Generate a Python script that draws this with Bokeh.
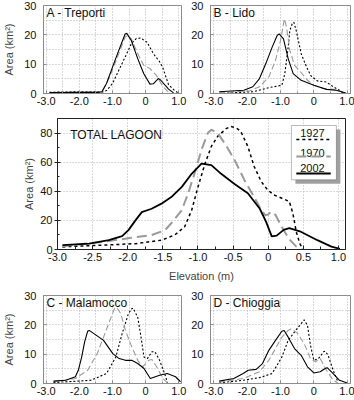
from bokeh.plotting import figure
from bokeh.layouts import column, row
from bokeh.models import Range1d, FixedTicker, SingleIntervalTicker, Label, BoxAnnotation, Arrow
from bokeh.embed import file_html
from bokeh.resources import INLINE

# ---------------- data ----------------
# Panel A - Treporti
a_x_2002 = [-2.9, -2.0, -1.4, -1.32, -1.18, -1.0, -0.81, -0.62, -0.57, -0.43, -0.24, -0.06, 0.13, 0.23, 0.38, 0.45, 0.69, 0.84]
a_y_2002 = [0.3, 0.4, 0.4, 0.6, 3.4, 9.0, 14.7, 20.3, 20.5, 18.0, 11.9, 6.8, 3.2, 3.3, 5.1, 4.6, 1.5, 0.2]
a_x_1970 = [-2.9, -2.0, -1.4, -1.3, -1.09, -0.81, -0.62, -0.55, -0.43, -0.24, -0.06, 0.13, 0.32, 0.51, 0.69]
a_y_1970 = [0.3, 0.4, 0.5, 0.8, 5.6, 13.6, 19.2, 19.8, 18.6, 13.6, 9.6, 8.5, 6.2, 2.5, 0.4]
a_x_1927 = [-2.9, -2.0, -1.5, -1.3, -1.18, -1.0, -0.81, -0.62, -0.43, -0.28, -0.15, 0.04, 0.23, 0.41, 0.51, 0.69, 0.88, 0.98]
a_y_1927 = [0.4, 0.6, 0.6, 0.5, 1.0, 3.4, 7.9, 12.4, 17.0, 18.8, 18.9, 17.5, 13.6, 11.0, 9.0, 3.0, 0.9, 0.2]

# Panel B - Lido
b_x_2002 = [-2.84, -2.1, -1.83, -1.63, -1.44, -1.25, -1.1, -1.04, -0.91, -0.77, -0.62, -0.38, 0.0, 0.38, 0.67, 0.96]
b_y_2002 = [0.6, 1.1, 2.3, 5.1, 10.2, 15.8, 19.8, 20.3, 18.6, 11.9, 6.8, 4.5, 2.8, 1.4, 1.1, 0.2]
b_x_1970 = [-2.84, -1.92, -1.63, -1.35, -1.15, -1.0, -0.91, -0.88, -0.82, -0.72, -0.58, -0.43, -0.19, 0.0, 0.29, 0.58, 0.87]
b_y_1970 = [0.2, 0.9, 2.3, 5.6, 11.3, 18.0, 23.7, 25.4, 22.6, 14.7, 9.6, 7.8, 4.5, 2.8, 1.7, 1.4, 0.6]
b_x_1927 = [-2.84, -1.83, -1.35, -0.96, -0.87, -0.77, -0.72, -0.65, -0.6, -0.53, -0.38, -0.24, -0.1, 0.1, 0.38, 0.58, 0.77, 0.87]
b_y_1927 = [0.0, 0.6, 2.0, 2.8, 6.8, 15.8, 21.5, 23.7, 24.3, 21.5, 13.6, 9.6, 6.2, 4.3, 3.9, 2.3, 1.1, 0.2]

# Panel C - Malamocco
c_x_2002 = [-2.78, -2.41, -2.12, -2.03, -1.93, -1.84, -1.75, -1.7, -1.56, -1.27, -0.99, -0.8, -0.61, -0.42, -0.24, -0.05, 0.14, 0.42, 0.65, 0.9, 1.05]
c_y_2002 = [0.8, 1.1, 2.3, 4.5, 9.0, 14.2, 17.8, 18.1, 17.0, 14.7, 10.2, 8.5, 7.9, 7.9, 6.8, 5.1, 1.7, 2.8, 3.4, 2.3, 0.6]
c_x_1970 = [-2.78, -2.12, -1.75, -1.46, -1.27, -1.08, -0.94, -0.88, -0.75, -0.61, -0.42, -0.24, -0.09, 0.09, 0.19, 0.33, 0.52, 0.66]
c_y_1970 = [0.6, 1.7, 4.5, 10.2, 15.8, 21.5, 25.5, 26.0, 23.8, 18.1, 12.5, 7.9, 5.7, 7.9, 8.2, 5.7, 1.7, 0.2]
c_x_1927 = [-2.78, -1.65, -1.18, -0.9, -0.71, -0.52, -0.42, -0.38, -0.24, -0.14, -0.05, 0.05, 0.19, 0.28, 0.42, 0.57, 0.66]
c_y_1927 = [0.3, 1.1, 3.4, 9.0, 17.0, 23.8, 25.5, 25.7, 22.6, 15.8, 9.0, 8.5, 10.8, 10.8, 7.9, 3.4, 0.2]

# Panel D - Chioggia
d_x_2002 = [-2.84, -2.4, -2.12, -1.97, -1.73, -1.54, -1.35, -1.15, -0.96, -0.89, -0.77, -0.58, -0.38, -0.19, 0.0, 0.19, 0.34, 0.4, 0.58, 0.77, 1.0]
d_y_2002 = [0.8, 1.7, 3.4, 4.5, 4.8, 6.8, 11.3, 14.7, 17.8, 18.1, 15.8, 11.9, 9.6, 5.7, 3.6, 4.0, 5.1, 5.4, 3.4, 1.1, 0.2]
d_x_1970 = [-2.84, -2.12, -1.63, -1.35, -1.15, -0.96, -0.77, -0.67, -0.48, -0.29, -0.1, 0.05, 0.19, 0.38, 0.58, 0.72]
d_y_1970 = [0.45, 1.7, 4.0, 7.9, 11.9, 15.8, 18.1, 18.7, 17.0, 13.6, 8.5, 7.4, 8.5, 4.5, 1.1, 0.2]
d_x_1927 = [-2.84, -2.12, -1.63, -1.25, -0.96, -0.77, -0.58, -0.38, -0.29, -0.19, -0.1, 0.0, 0.14, 0.29, 0.34, 0.43, 0.58, 0.72]
d_y_1927 = [0.2, 1.1, 2.0, 3.4, 9.0, 14.7, 17.6, 20.4, 21.7, 19.8, 13.0, 7.9, 8.5, 10.8, 11.0, 9.6, 4.5, 0.6]

# Total lagoon
t_x_2002 = [-2.93, -2.55, -2.27, -2.08, -1.99, -1.89, -1.8, -1.66, -1.52, -1.38, -1.23, -1.09, -0.95, -0.81, -0.67, -0.48, -0.29, -0.12, -0.03, 0.05, 0.12, 0.22, 0.3, 0.45, 0.7, 0.9, 1.02]
t_y_2002 = [3.0, 4.1, 6.4, 9.2, 13.3, 20.0, 25.7, 28.0, 31.5, 36.0, 43.0, 52.0, 59.0, 58.0, 52.0, 45.0, 38.6, 28.0, 19.0, 9.0, 9.5, 13.5, 14.7, 12.5, 6.4, 2.0, 0.5]
t_x_1970 = [-2.93, -2.4, -1.95, -1.66, -1.47, -1.38, -1.23, -1.14, -1.05, -0.95, -0.86, -0.81, -0.72, -0.62, -0.48, -0.34, -0.2, -0.1, -0.04, 0.0, 0.04, 0.1, 0.2, 0.3, 0.4, 0.48]
t_y_1970 = [2.3, 5.0, 8.0, 9.9, 13.3, 18.0, 27.0, 38.6, 52.0, 68.5, 80.0, 82.3, 80.0, 73.0, 61.6, 47.8, 36.0, 27.0, 23.5, 24.0, 26.0, 24.0, 15.0, 7.0, 2.0, 0.0]
t_x_1927 = [-2.93, -2.36, -1.89, -1.52, -1.33, -1.19, -1.09, -1.0, -0.9, -0.81, -0.72, -0.6, -0.53, -0.45, -0.39, -0.29, -0.2, -0.1, -0.01, 0.08, 0.23, 0.3, 0.35, 0.4, 0.45, 0.5]
t_y_1927 = [1.8, 3.0, 4.0, 6.4, 10.0, 15.6, 27.0, 43.0, 59.0, 70.8, 77.7, 83.0, 84.5, 83.4, 81.0, 70.8, 57.0, 46.7, 41.0, 37.5, 34.5, 33.0, 25.0, 12.0, 4.0, 0.0]

years = ["1927", "1970", "2002"]
small_x_ticks = [-3.0, -2.0, -1.0, 0.0, 1.0]
small_x_labels = ["-3.0", "-2.0", "-1.0", "0", "1.0"]
small_y_ticks = [0, 10, 20, 30]
main_x_ticks = [-3.0, -2.5, -2.0, -1.5, -1.0, -0.5, 0.0, 0.5, 1.0]
main_x_labels = ["-3.0", "-2.5", "-2.0", "-1.5", "-1.0", "-0.5", "0", "0.5", "1.0"]
main_y_ticks = [0, 20, 40, 60, 80]

FONT = "Liberation Sans"
GREY = "#9a9a9a"
STYLE = {
    "2002": dict(line_color="black", line_dash="solid"),
    "1970": dict(line_color=GREY, line_dash="6 3"),
    "1927": dict(line_color="black", line_dash="2 2"),
}


def style_axes(p, frame_color, tick_in):
    for ax in (p.xaxis[0], p.yaxis[0]):
        ax.major_label_text_font = FONT
        ax.major_label_text_font_size = "11px"
        ax.major_label_text_color = "#111111"
        ax.axis_label_text_font = FONT
        ax.axis_label_text_font_size = "11px"
        ax.axis_label_text_font_style = "normal"
        ax.axis_line_color = frame_color
        ax.major_tick_line_color = frame_color
        ax.minor_tick_line_color = frame_color
    p.outline_line_color = frame_color
    p.outline_line_alpha = 1.0
    for g in (p.xgrid[0], p.ygrid[0]):
        g.grid_line_color = "#b4b4b4"
        g.grid_line_dash = "1 2"
        g.grid_line_width = 1


def small_panel(title, xs, ys, width, height, left, right, top, bottom, xr, ylabel):
    p = figure(width=width, height=height, x_range=Range1d(*xr), y_range=Range1d(0, 30),
               output_backend="svg", toolbar_location=None,
               min_border_left=left, min_border_right=right,
               min_border_top=top, min_border_bottom=bottom)
    style_axes(p, "#8c8c8c", 3)
    p.xaxis.ticker = FixedTicker(ticks=small_x_ticks, minor_ticks=[-2.5, -1.5, -0.5, 0.5])
    p.xaxis.major_label_overrides = {t: l for t, l in zip(small_x_ticks, small_x_labels)}
    p.yaxis.ticker = FixedTicker(ticks=small_y_ticks)
    p.xaxis.major_tick_in = 3
    p.xaxis.major_tick_out = 0
    p.xaxis.minor_tick_in = 2
    p.xaxis.minor_tick_out = 0
    p.yaxis.major_tick_in = 3
    p.yaxis.major_tick_out = 0
    p.yaxis.minor_tick_in = 0
    p.yaxis.minor_tick_out = 0
    p.xaxis.major_label_standoff = 3
    p.yaxis.major_label_standoff = 7
    p.xgrid.ticker = SingleIntervalTicker(interval=0.5)
    p.ygrid.ticker = SingleIntervalTicker(interval=5)
    if ylabel:
        p.yaxis.axis_label = "Area (km\u00b2)"
        p.yaxis.axis_label_standoff = 6
    for yr in years:
        p.line(xs[yr], ys[yr], line_width=1.1, **STYLE[yr])
    p.add_layout(Label(x=xr[0] + 0.09, y=27.3, text=title, text_font=FONT,
                       text_font_size="12px", text_baseline="middle", text_color="#111111"))
    return p


A_XR = (-3.08, 1.08)
B_XR = (-3.1, 1.1)

pA = small_panel("A - Treporti",
                 {"2002": a_x_2002, "1970": a_x_1970, "1927": a_x_1927},
                 {"2002": a_y_2002, "1970": a_y_1970, "1927": a_y_1927},
                 188, 110, 40, 7, 5, 17, A_XR, True)
pB = small_panel("B - Lido",
                 {"2002": b_x_2002, "1970": b_x_1970, "1927": b_x_1927},
                 {"2002": b_y_2002, "1970": b_y_1970, "1927": b_y_1927},
                 166, 110, 16, 4, 5, 17, B_XR, False)
pC = small_panel("C - Malamocco",
                 {"2002": c_x_2002, "1970": c_x_1970, "1927": c_x_1927},
                 {"2002": c_y_2002, "1970": c_y_1970, "1927": c_y_1927},
                 188, 112, 40, 7, 7, 17, A_XR, True)
pD = small_panel("D - Chioggia",
                 {"2002": d_x_2002, "1970": d_x_1970, "1927": d_x_1927},
                 {"2002": d_y_2002, "1970": d_y_1970, "1927": d_y_1927},
                 166, 112, 16, 4, 7, 17, B_XR, False)

# ---------------- main panel ----------------
pm = figure(width=354, height=178, x_range=Range1d(-3.0, 1.1), y_range=Range1d(0, 90),
            output_backend="svg", toolbar_location=None,
            min_border_left=57, min_border_right=9, min_border_top=8, min_border_bottom=39)
style_axes(pm, "#222222", 4)
pm.xaxis.ticker = FixedTicker(ticks=main_x_ticks,
                              minor_ticks=[-2.75, -2.25, -1.75, -1.25, -0.75, -0.25, 0.25, 0.75])
pm.xaxis.major_label_overrides = {t: l for t, l in zip(main_x_ticks, main_x_labels)}
pm.yaxis.ticker = FixedTicker(ticks=main_y_ticks, minor_ticks=[10, 30, 50, 70])
pm.xaxis.major_tick_in = 4
pm.xaxis.major_tick_out = 0
pm.xaxis.minor_tick_in = 3
pm.xaxis.minor_tick_out = 0
pm.yaxis.major_tick_in = 3
pm.yaxis.major_tick_out = 3
pm.yaxis.minor_tick_in = 2
pm.yaxis.minor_tick_out = 0
pm.xaxis.major_label_standoff = 3
pm.yaxis.major_label_standoff = 2
pm.xaxis.axis_label = "Elevation (m)"
pm.xaxis.axis_label_standoff = 6
pm.yaxis.axis_label = "Area (km\u00b2)"
pm.yaxis.axis_label_standoff = 2
pm.xgrid.ticker = SingleIntervalTicker(interval=0.5)
pm.ygrid.ticker = SingleIntervalTicker(interval=20)

main_style = {
    "2002": dict(line_color="black", line_dash="solid", line_width=1.8),
    "1970": dict(line_color=GREY, line_dash="10 5", line_width=2.0),
    "1927": dict(line_color="black", line_dash="3 3", line_width=1.5),
}
main_xs = {"2002": t_x_2002, "1970": t_x_1970, "1927": t_x_1927}
main_ys = {"2002": t_y_2002, "1970": t_y_1970, "1927": t_y_1927}
for yr in years:
    pm.line(main_xs[yr], main_ys[yr], **main_style[yr])

pm.add_layout(Label(x=-2.82, y=78.8, text="TOTAL  LAGOON", text_font=FONT,
                    text_font_size="12px", text_baseline="middle", text_color="#111111"))

# legend box (text above sample line), drawn as annotations
LG_L, LG_R, LG_T, LG_B = 0.33, 0.97, 85.2, 47.9
SH_DX, SH_DY = 0.057, 2.8
pm.add_layout(BoxAnnotation(left=LG_L + SH_DX, right=LG_R + SH_DX, top=LG_T - SH_DY, bottom=LG_B - SH_DY,
                            fill_color="#a0a0a0", fill_alpha=1.0, line_color=None))
pm.add_layout(BoxAnnotation(left=LG_L, right=LG_R, top=LG_T, bottom=LG_B,
                            fill_color="white", fill_alpha=1.0, line_color="#222222", line_width=1))
leg_text_y = {"1927": 79.7, "1970": 66.6, "2002": 56.3}
leg_line_y = {"1927": 75.6, "1970": 63.9, "2002": 52.2}
for yr in years:
    pm.add_layout(Label(x=0.63, y=leg_text_y[yr], text=yr, text_font=FONT, text_font_size="11px",
                        text_align="center", text_baseline="middle", text_color="#111111"))
    st = main_style[yr]
    pm.add_layout(Arrow(end=None, start=None, x_start=0.40, x_end=0.89,
                        y_start=leg_line_y[yr], y_end=leg_line_y[yr],
                        line_color=st["line_color"], line_dash=st["line_dash"],
                        line_width=st["line_width"]))

layout = column(row(pA, pB), pm, row(pC, pD))
open("out.html", "w").write(file_html(layout, INLINE))
